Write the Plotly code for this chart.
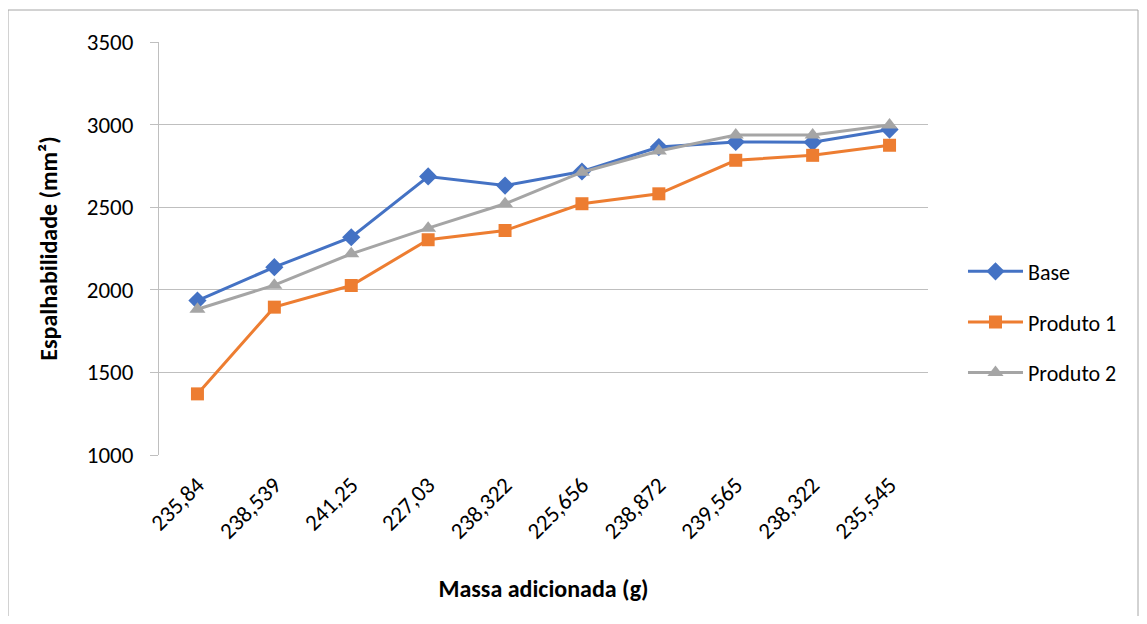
import plotly.graph_objects as go

categories = ["235,84", "238,539", "241,25", "227,03", "238,322", "225,656", "238,872", "239,565", "238,322", "235,545"]
base = [1935, 2137, 2318, 2686, 2631, 2716, 2864, 2895, 2893, 2970]
produto1 = [1370, 1895, 2026, 2303, 2359, 2521, 2581, 2784, 2814, 2875]
produto2 = [1882, 2028, 2218, 2373, 2521, 2712, 2840, 2937, 2937, 2998]

FONT = "Carlito, Calibri, Lato, sans-serif"
x_idx = list(range(len(categories)))

fig = go.Figure()
series = [
    ("Base", base, "#4472C4", "diamond", 14),
    ("Produto 1", produto1, "#ED7D31", "square", 13),
    ("Produto 2", produto2, "#A5A5A5", "triangle-up", 14),
]
for i, (name, vals, col, sym, sz) in enumerate(series):
    fig.add_trace(go.Scatter(
        x=x_idx, y=vals, name=name, mode="lines+markers",
        line=dict(color=col, width=3),
        marker=dict(symbol=sym, size=sz, color=col),
        legendgroup="g%d" % i,
    ))

# page has 8px body margin; plot area target in page px: x 159..928, y 42..455
fig.update_layout(
    width=1131, height=608,
    margin=dict(l=151, r=211, t=34, b=161),
    paper_bgcolor="white", plot_bgcolor="white",
    font=dict(family=FONT, color="#000000", size=22),
    showlegend=True,
    legend=dict(x=1.0455, y=0.322, xanchor="left", yanchor="middle",
                font=dict(size=22), tracegroupgap=19, itemwidth=55,
                bgcolor="rgba(0,0,0,0)"),
    xaxis=dict(
        tickmode="array", tickvals=x_idx, ticktext=categories,
        range=[-0.5, 9.5], tickangle=-45, showgrid=False, zeroline=False,
        showline=False, ticks="", tickfont=dict(size=23), ticklabelstandoff=11,
        title=dict(text="<b>Massa adicionada (g)</b>", font=dict(size=24), standoff=36),
    ),
    yaxis=dict(
        range=[1000, 3500], dtick=500, showgrid=True, gridcolor="#BFBFBF", gridwidth=1,
        zeroline=False, showline=True, linecolor="#BFBFBF", linewidth=1,
        ticks="outside", ticklen=8, tickcolor="#BFBFBF", tickfont=dict(size=23),
        ticklabelstandoff=12,
        title=dict(text="<b>Espalhabilidade (mm²)</b>", font=dict(size=24), standoff=22),
    ),
    shapes=[dict(type="rect", xref="paper", yref="paper",
                 x0=(8 - 159) / 769, x1=(1138 - 159) / 769,
                 y0=(455 - 621) / 413, y1=(455 - 10) / 413,
                 line=dict(color="#A6A6A6", width=1), fillcolor="rgba(0,0,0,0)", layer="below")],
)

fig.write_html("out.html")
